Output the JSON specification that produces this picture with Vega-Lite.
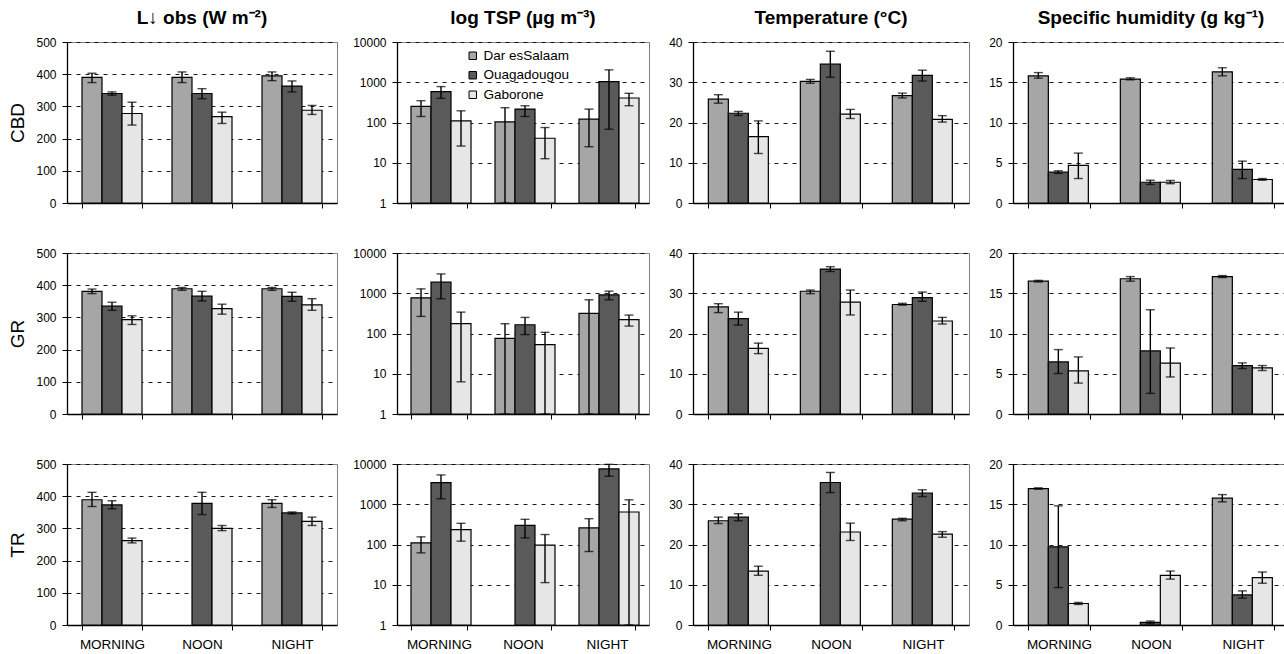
{
  "$schema": "https://vega.github.io/schema/vega-lite/v6.json",
  "padding": {"left": 8, "right": 1, "top": 8, "bottom": 2},
  "background": "white",
  "datasets": {
    "d": [
      {"s":"CBD","v":"L","t":"MORNING","c":"Dar esSalaam","val":390,"lo":374,"hi":403},
      {"s":"CBD","v":"L","t":"MORNING","c":"Ouagadougou","val":340,"lo":335,"hi":345},
      {"s":"CBD","v":"L","t":"MORNING","c":"Gaborone","val":278,"lo":242,"hi":313},
      {"s":"CBD","v":"L","t":"NOON","c":"Dar esSalaam","val":390,"lo":374,"hi":407},
      {"s":"CBD","v":"L","t":"NOON","c":"Ouagadougou","val":340,"lo":324,"hi":355},
      {"s":"CBD","v":"L","t":"NOON","c":"Gaborone","val":268,"lo":247,"hi":282},
      {"s":"CBD","v":"L","t":"NIGHT","c":"Dar esSalaam","val":395,"lo":380,"hi":407},
      {"s":"CBD","v":"L","t":"NIGHT","c":"Ouagadougou","val":363,"lo":345,"hi":379},
      {"s":"CBD","v":"L","t":"NIGHT","c":"Gaborone","val":288,"lo":275,"hi":303},

      {"s":"CBD","v":"TSP","t":"MORNING","c":"Dar esSalaam","val":251,"lo":141,"hi":348},
      {"s":"CBD","v":"TSP","t":"MORNING","c":"Ouagadougou","val":584,"lo":398,"hi":780},
      {"s":"CBD","v":"TSP","t":"MORNING","c":"Gaborone","val":110,"lo":26,"hi":195},
      {"s":"CBD","v":"TSP","t":"NOON","c":"Dar esSalaam","val":104,"lo":1,"hi":233},
      {"s":"CBD","v":"TSP","t":"NOON","c":"Ouagadougou","val":215,"lo":141,"hi":261},
      {"s":"CBD","v":"TSP","t":"NOON","c":"Gaborone","val":40.6,"lo":12.6,"hi":75},
      {"s":"CBD","v":"TSP","t":"NIGHT","c":"Dar esSalaam","val":121,"lo":25,"hi":215},
      {"s":"CBD","v":"TSP","t":"NIGHT","c":"Ouagadougou","val":1040,"lo":68,"hi":2033},
      {"s":"CBD","v":"TSP","t":"NIGHT","c":"Gaborone","val":406,"lo":261,"hi":531},

      {"s":"CBD","v":"T","t":"MORNING","c":"Dar esSalaam","val":25.8,"lo":24.8,"hi":26.9},
      {"s":"CBD","v":"T","t":"MORNING","c":"Ouagadougou","val":22.3,"lo":21.75,"hi":22.75},
      {"s":"CBD","v":"T","t":"MORNING","c":"Gaborone","val":16.5,"lo":12.3,"hi":20.4},
      {"s":"CBD","v":"T","t":"NOON","c":"Dar esSalaam","val":30.2,"lo":29.75,"hi":30.7},
      {"s":"CBD","v":"T","t":"NOON","c":"Ouagadougou","val":34.5,"lo":31.25,"hi":37.7},
      {"s":"CBD","v":"T","t":"NOON","c":"Gaborone","val":22.1,"lo":21,"hi":23.25},
      {"s":"CBD","v":"T","t":"NIGHT","c":"Dar esSalaam","val":26.7,"lo":26.1,"hi":27.3},
      {"s":"CBD","v":"T","t":"NIGHT","c":"Ouagadougou","val":31.7,"lo":30.3,"hi":33},
      {"s":"CBD","v":"T","t":"NIGHT","c":"Gaborone","val":20.8,"lo":20.1,"hi":21.7},

      {"s":"CBD","v":"Q","t":"MORNING","c":"Dar esSalaam","val":15.8,"lo":15.5,"hi":16.2},
      {"s":"CBD","v":"Q","t":"MORNING","c":"Ouagadougou","val":3.83,"lo":3.67,"hi":4.0},
      {"s":"CBD","v":"Q","t":"MORNING","c":"Gaborone","val":4.67,"lo":3.04,"hi":6.2},
      {"s":"CBD","v":"Q","t":"NOON","c":"Dar esSalaam","val":15.4,"lo":15.3,"hi":15.55},
      {"s":"CBD","v":"Q","t":"NOON","c":"Ouagadougou","val":2.58,"lo":2.3,"hi":2.83},
      {"s":"CBD","v":"Q","t":"NOON","c":"Gaborone","val":2.58,"lo":2.4,"hi":2.8},
      {"s":"CBD","v":"Q","t":"NIGHT","c":"Dar esSalaam","val":16.3,"lo":15.8,"hi":16.8},
      {"s":"CBD","v":"Q","t":"NIGHT","c":"Ouagadougou","val":4.17,"lo":3.04,"hi":5.2},
      {"s":"CBD","v":"Q","t":"NIGHT","c":"Gaborone","val":2.92,"lo":2.83,"hi":3.04},

      {"s":"GR","v":"L","t":"MORNING","c":"Dar esSalaam","val":381,"lo":374,"hi":388},
      {"s":"GR","v":"L","t":"MORNING","c":"Ouagadougou","val":335,"lo":322,"hi":347},
      {"s":"GR","v":"L","t":"MORNING","c":"Gaborone","val":293,"lo":278,"hi":305},
      {"s":"GR","v":"L","t":"NOON","c":"Dar esSalaam","val":389,"lo":384,"hi":393},
      {"s":"GR","v":"L","t":"NOON","c":"Ouagadougou","val":366,"lo":351,"hi":381},
      {"s":"GR","v":"L","t":"NOON","c":"Gaborone","val":327,"lo":310,"hi":341},
      {"s":"GR","v":"L","t":"NIGHT","c":"Dar esSalaam","val":389,"lo":384,"hi":393},
      {"s":"GR","v":"L","t":"NIGHT","c":"Ouagadougou","val":365,"lo":350,"hi":378},
      {"s":"GR","v":"L","t":"NIGHT","c":"Gaborone","val":339,"lo":322,"hi":358},

      {"s":"GR","v":"TSP","t":"MORNING","c":"Dar esSalaam","val":770,"lo":266,"hi":1286},
      {"s":"GR","v":"TSP","t":"MORNING","c":"Ouagadougou","val":1880,"lo":728,"hi":3020},
      {"s":"GR","v":"TSP","t":"MORNING","c":"Gaborone","val":175,"lo":6.3,"hi":340},
      {"s":"GR","v":"TSP","t":"NOON","c":"Dar esSalaam","val":76,"lo":1,"hi":175},
      {"s":"GR","v":"TSP","t":"NOON","c":"Ouagadougou","val":165,"lo":94,"hi":251},
      {"s":"GR","v":"TSP","t":"NOON","c":"Gaborone","val":53,"lo":1,"hi":107},
      {"s":"GR","v":"TSP","t":"NIGHT","c":"Dar esSalaam","val":316,"lo":1,"hi":687},
      {"s":"GR","v":"TSP","t":"NIGHT","c":"Ouagadougou","val":914,"lo":687,"hi":1127},
      {"s":"GR","v":"TSP","t":"NIGHT","c":"Gaborone","val":220,"lo":153,"hi":287},

      {"s":"GR","v":"T","t":"MORNING","c":"Dar esSalaam","val":26.6,"lo":25.2,"hi":27.4},
      {"s":"GR","v":"T","t":"MORNING","c":"Ouagadougou","val":23.7,"lo":22.1,"hi":25.3},
      {"s":"GR","v":"T","t":"MORNING","c":"Gaborone","val":16.3,"lo":15,"hi":17.6},
      {"s":"GR","v":"T","t":"NOON","c":"Dar esSalaam","val":30.5,"lo":29.9,"hi":30.8},
      {"s":"GR","v":"T","t":"NOON","c":"Ouagadougou","val":36.0,"lo":35.4,"hi":36.6},
      {"s":"GR","v":"T","t":"NOON","c":"Gaborone","val":27.8,"lo":24.6,"hi":30.8},
      {"s":"GR","v":"T","t":"NIGHT","c":"Dar esSalaam","val":27.2,"lo":27.05,"hi":27.5},
      {"s":"GR","v":"T","t":"NIGHT","c":"Ouagadougou","val":28.9,"lo":28,"hi":30.3},
      {"s":"GR","v":"T","t":"NIGHT","c":"Gaborone","val":23.1,"lo":22.35,"hi":24},

      {"s":"GR","v":"Q","t":"MORNING","c":"Dar esSalaam","val":16.5,"lo":16.4,"hi":16.6},
      {"s":"GR","v":"Q","t":"MORNING","c":"Ouagadougou","val":6.47,"lo":5.03,"hi":8.0},
      {"s":"GR","v":"Q","t":"MORNING","c":"Gaborone","val":5.36,"lo":3.84,"hi":7.09},
      {"s":"GR","v":"Q","t":"NOON","c":"Dar esSalaam","val":16.8,"lo":16.5,"hi":17.07},
      {"s":"GR","v":"Q","t":"NOON","c":"Ouagadougou","val":7.84,"lo":2.56,"hi":12.95},
      {"s":"GR","v":"Q","t":"NOON","c":"Gaborone","val":6.31,"lo":4.6,"hi":8.2},
      {"s":"GR","v":"Q","t":"NIGHT","c":"Dar esSalaam","val":17.07,"lo":16.95,"hi":17.2},
      {"s":"GR","v":"Q","t":"NIGHT","c":"Ouagadougou","val":6.02,"lo":5.65,"hi":6.35},
      {"s":"GR","v":"Q","t":"NIGHT","c":"Gaborone","val":5.73,"lo":5.4,"hi":6.02},

      {"s":"TR","v":"L","t":"MORNING","c":"Dar esSalaam","val":389,"lo":368,"hi":412},
      {"s":"TR","v":"L","t":"MORNING","c":"Ouagadougou","val":373,"lo":361,"hi":386},
      {"s":"TR","v":"L","t":"MORNING","c":"Gaborone","val":262,"lo":255,"hi":270},
      {"s":"TR","v":"L","t":"NOON","c":"Ouagadougou","val":378,"lo":343,"hi":412},
      {"s":"TR","v":"L","t":"NOON","c":"Gaborone","val":300,"lo":293,"hi":309},
      {"s":"TR","v":"L","t":"NIGHT","c":"Dar esSalaam","val":378,"lo":365,"hi":389},
      {"s":"TR","v":"L","t":"NIGHT","c":"Ouagadougou","val":348,"lo":345,"hi":351},
      {"s":"TR","v":"L","t":"NIGHT","c":"Gaborone","val":322,"lo":309,"hi":335},

      {"s":"TR","v":"TSP","t":"MORNING","c":"Dar esSalaam","val":110,"lo":62,"hi":155},
      {"s":"TR","v":"TSP","t":"MORNING","c":"Ouagadougou","val":3460,"lo":1367,"hi":5350},
      {"s":"TR","v":"TSP","t":"MORNING","c":"Gaborone","val":235,"lo":121,"hi":336},
      {"s":"TR","v":"TSP","t":"NOON","c":"Ouagadougou","val":300,"lo":146,"hi":422},
      {"s":"TR","v":"TSP","t":"NOON","c":"Gaborone","val":96,"lo":11.3,"hi":177},
      {"s":"TR","v":"TSP","t":"NIGHT","c":"Dar esSalaam","val":258,"lo":67,"hi":438},
      {"s":"TR","v":"TSP","t":"NIGHT","c":"Ouagadougou","val":7530,"lo":4960,"hi":9800},
      {"s":"TR","v":"TSP","t":"NIGHT","c":"Gaborone","val":641,"lo":1,"hi":1291},

      {"s":"TR","v":"T","t":"MORNING","c":"Dar esSalaam","val":25.9,"lo":25.2,"hi":26.8},
      {"s":"TR","v":"T","t":"MORNING","c":"Ouagadougou","val":26.8,"lo":25.9,"hi":27.65},
      {"s":"TR","v":"T","t":"MORNING","c":"Gaborone","val":13.4,"lo":12.35,"hi":14.6},
      {"s":"TR","v":"T","t":"NOON","c":"Ouagadougou","val":35.4,"lo":32.9,"hi":37.9},
      {"s":"TR","v":"T","t":"NOON","c":"Gaborone","val":23.1,"lo":21,"hi":25.3},
      {"s":"TR","v":"T","t":"NIGHT","c":"Dar esSalaam","val":26.3,"lo":25.9,"hi":26.5},
      {"s":"TR","v":"T","t":"NIGHT","c":"Ouagadougou","val":32.8,"lo":31.9,"hi":33.6},
      {"s":"TR","v":"T","t":"NIGHT","c":"Gaborone","val":22.6,"lo":21.8,"hi":23.2},

      {"s":"TR","v":"Q","t":"MORNING","c":"Dar esSalaam","val":16.95,"lo":16.87,"hi":17.04},
      {"s":"TR","v":"Q","t":"MORNING","c":"Ouagadougou","val":9.71,"lo":4.65,"hi":14.8},
      {"s":"TR","v":"Q","t":"MORNING","c":"Gaborone","val":2.67,"lo":2.55,"hi":2.8},
      {"s":"TR","v":"Q","t":"NOON","c":"Ouagadougou","val":0.33,"lo":0.16,"hi":0.49},
      {"s":"TR","v":"Q","t":"NOON","c":"Gaborone","val":6.17,"lo":5.7,"hi":6.7},
      {"s":"TR","v":"Q","t":"NIGHT","c":"Dar esSalaam","val":15.76,"lo":15.3,"hi":16.2},
      {"s":"TR","v":"Q","t":"NIGHT","c":"Ouagadougou","val":3.74,"lo":3.33,"hi":4.24},
      {"s":"TR","v":"Q","t":"NIGHT","c":"Gaborone","val":5.88,"lo":5.19,"hi":6.58}
    ]
  },
  "columns": 4,
  "spacing": {"row": 36, "column": 14},
  "resolve": {"scale": {"color": "independent"}},
  "concat": [
    {"width":270,"height":161,"title":"L↓ obs (W m⁻²)","data":{"name":"d"},"transform":[{"filter":"datum.s=='CBD'&&datum.v=='L'"}],
     "encoding":{"x":{"field":"t","type":"nominal","sort":["MORNING","NOON","NIGHT"],"scale":{"paddingInner":0.3333,"paddingOuter":0.1667},"axis":{"labels":false}},
       "xOffset":{"field":"c","type":"nominal","scale":{"domain":["Dar esSalaam","Ouagadougou","Gaborone"],"paddingInner":0,"paddingOuter":0}}},
     "layer":[
      {"mark":{"type":"bar","stroke":"black","strokeWidth":1.2},"encoding":{"y":{"field":"val","type":"quantitative","title":"CBD","scale":{"domain":[0,500]},"axis":{"values":[0,100,200,300,400,500]}},"color":{"field":"c","type":"nominal","scale":{"domain":["Dar esSalaam","Ouagadougou","Gaborone"],"range":["#a6a6a6","#5a5a5a","#e6e6e6"]},"legend":null}}},
      {"mark":{"type":"rule","color":"black","strokeWidth":1.4},"encoding":{"y":{"field":"lo","type":"quantitative","title":"CBD","axis":{"values":[0,100,200,300,400,500]}},"y2":{"field":"hi"}}},
      {"mark":{"type":"tick","color":"black","thickness":1.4,"size":9},"encoding":{"y":{"field":"lo","type":"quantitative","title":"CBD","axis":{"values":[0,100,200,300,400,500]}}}},
      {"mark":{"type":"tick","color":"black","thickness":1.4,"size":9},"encoding":{"y":{"field":"hi","type":"quantitative","title":"CBD","axis":{"values":[0,100,200,300,400,500]}}}}
     ]},
    {"width":252,"height":161,"title":"log TSP (µg m⁻³)","data":{"name":"d"},"transform":[{"filter":"datum.s=='CBD'&&datum.v=='TSP'"}],
     "encoding":{"x":{"field":"t","type":"nominal","sort":["MORNING","NOON","NIGHT"],"scale":{"paddingInner":0.3333,"paddingOuter":0.1667},"axis":{"labels":false}},
       "xOffset":{"field":"c","type":"nominal","scale":{"domain":["Dar esSalaam","Ouagadougou","Gaborone"],"paddingInner":0,"paddingOuter":0}}},
     "layer":[
      {"mark":{"type":"bar","stroke":"black","strokeWidth":1.2},"encoding":{"y":{"field":"val","type":"quantitative","title":null,"scale":{"type":"log","domain":[1,10000]},"axis":{"values":[1,10,100,1000,10000],"format":"d"}},"y2":{"datum":1},"color":{"field":"c","type":"nominal","scale":{"domain":["Dar esSalaam","Ouagadougou","Gaborone"],"range":["#a6a6a6","#5a5a5a","#e6e6e6"]},"legend":{"orient":"none","legendX":69,"legendY":7,"title":null,"symbolType":"square","symbolSize":56,"symbolStrokeColor":"black","symbolStrokeWidth":1,"labelFontSize":13.5,"labelColor":"black","rowPadding":4.5,"labelOffset":4}}}},
      {"mark":{"type":"rule","color":"black","strokeWidth":1.4},"encoding":{"y":{"field":"lo","type":"quantitative","title":null,"scale":{"type":"log"},"axis":{"values":[1,10,100,1000,10000],"format":"d"}},"y2":{"field":"hi"}}},
      {"mark":{"type":"tick","color":"black","thickness":1.4,"size":9},"encoding":{"y":{"field":"lo","type":"quantitative","title":null,"scale":{"type":"log"},"axis":{"values":[1,10,100,1000,10000],"format":"d"}}}},
      {"mark":{"type":"tick","color":"black","thickness":1.4,"size":9},"encoding":{"y":{"field":"hi","type":"quantitative","title":null,"scale":{"type":"log"},"axis":{"values":[1,10,100,1000,10000],"format":"d"}}}}
     ]},
    {"width":276,"height":161,"title":"Temperature (°C)","data":{"name":"d"},"transform":[{"filter":"datum.s=='CBD'&&datum.v=='T'"}],
     "encoding":{"x":{"field":"t","type":"nominal","sort":["MORNING","NOON","NIGHT"],"scale":{"paddingInner":0.3333,"paddingOuter":0.1667},"axis":{"labels":false}},
       "xOffset":{"field":"c","type":"nominal","scale":{"domain":["Dar esSalaam","Ouagadougou","Gaborone"],"paddingInner":0,"paddingOuter":0}}},
     "layer":[
      {"mark":{"type":"bar","stroke":"black","strokeWidth":1.2},"encoding":{"y":{"field":"val","type":"quantitative","title":null,"scale":{"domain":[0,40]},"axis":{"values":[0,10,20,30,40],"minExtent":28}},"color":{"field":"c","type":"nominal","scale":{"domain":["Dar esSalaam","Ouagadougou","Gaborone"],"range":["#a6a6a6","#5a5a5a","#e6e6e6"]},"legend":null}}},
      {"mark":{"type":"rule","color":"black","strokeWidth":1.4},"encoding":{"y":{"field":"lo","type":"quantitative","title":null,"axis":{"values":[0,10,20,30,40],"minExtent":28}},"y2":{"field":"hi"}}},
      {"mark":{"type":"tick","color":"black","thickness":1.4,"size":9},"encoding":{"y":{"field":"lo","type":"quantitative","title":null,"axis":{"values":[0,10,20,30,40],"minExtent":28}}}},
      {"mark":{"type":"tick","color":"black","thickness":1.4,"size":9},"encoding":{"y":{"field":"hi","type":"quantitative","title":null,"axis":{"values":[0,10,20,30,40],"minExtent":28}}}}
     ]},
    {"width":276,"height":161,"title":"Specific humidity (g kg⁻¹)","data":{"name":"d"},"transform":[{"filter":"datum.s=='CBD'&&datum.v=='Q'"}],
     "encoding":{"x":{"field":"t","type":"nominal","sort":["MORNING","NOON","NIGHT"],"scale":{"paddingInner":0.3333,"paddingOuter":0.1667},"axis":{"labels":false}},
       "xOffset":{"field":"c","type":"nominal","scale":{"domain":["Dar esSalaam","Ouagadougou","Gaborone"],"paddingInner":0,"paddingOuter":0}}},
     "layer":[
      {"mark":{"type":"bar","stroke":"black","strokeWidth":1.2},"encoding":{"y":{"field":"val","type":"quantitative","title":null,"scale":{"domain":[0,20]},"axis":{"values":[0,5,10,15,20],"minExtent":28}},"color":{"field":"c","type":"nominal","scale":{"domain":["Dar esSalaam","Ouagadougou","Gaborone"],"range":["#a6a6a6","#5a5a5a","#e6e6e6"]},"legend":null}}},
      {"mark":{"type":"rule","color":"black","strokeWidth":1.4},"encoding":{"y":{"field":"lo","type":"quantitative","title":null,"axis":{"values":[0,5,10,15,20],"minExtent":28}},"y2":{"field":"hi"}}},
      {"mark":{"type":"tick","color":"black","thickness":1.4,"size":9},"encoding":{"y":{"field":"lo","type":"quantitative","title":null,"axis":{"values":[0,5,10,15,20],"minExtent":28}}}},
      {"mark":{"type":"tick","color":"black","thickness":1.4,"size":9},"encoding":{"y":{"field":"hi","type":"quantitative","title":null,"axis":{"values":[0,5,10,15,20],"minExtent":28}}}}
     ]},

    {"width":270,"height":161,"data":{"name":"d"},"transform":[{"filter":"datum.s=='GR'&&datum.v=='L'"}],
     "encoding":{"x":{"field":"t","type":"nominal","sort":["MORNING","NOON","NIGHT"],"scale":{"paddingInner":0.3333,"paddingOuter":0.1667},"axis":{"labels":false}},
       "xOffset":{"field":"c","type":"nominal","scale":{"domain":["Dar esSalaam","Ouagadougou","Gaborone"],"paddingInner":0,"paddingOuter":0}}},
     "layer":[
      {"mark":{"type":"bar","stroke":"black","strokeWidth":1.2},"encoding":{"y":{"field":"val","type":"quantitative","title":"GR","scale":{"domain":[0,500]},"axis":{"values":[0,100,200,300,400,500]}},"color":{"field":"c","type":"nominal","scale":{"domain":["Dar esSalaam","Ouagadougou","Gaborone"],"range":["#a6a6a6","#5a5a5a","#e6e6e6"]},"legend":null}}},
      {"mark":{"type":"rule","color":"black","strokeWidth":1.4},"encoding":{"y":{"field":"lo","type":"quantitative","title":"GR","axis":{"values":[0,100,200,300,400,500]}},"y2":{"field":"hi"}}},
      {"mark":{"type":"tick","color":"black","thickness":1.4,"size":9},"encoding":{"y":{"field":"lo","type":"quantitative","title":"GR","axis":{"values":[0,100,200,300,400,500]}}}},
      {"mark":{"type":"tick","color":"black","thickness":1.4,"size":9},"encoding":{"y":{"field":"hi","type":"quantitative","title":"GR","axis":{"values":[0,100,200,300,400,500]}}}}
     ]},
    {"width":252,"height":161,"data":{"name":"d"},"transform":[{"filter":"datum.s=='GR'&&datum.v=='TSP'"}],
     "encoding":{"x":{"field":"t","type":"nominal","sort":["MORNING","NOON","NIGHT"],"scale":{"paddingInner":0.3333,"paddingOuter":0.1667},"axis":{"labels":false}},
       "xOffset":{"field":"c","type":"nominal","scale":{"domain":["Dar esSalaam","Ouagadougou","Gaborone"],"paddingInner":0,"paddingOuter":0}}},
     "layer":[
      {"mark":{"type":"bar","stroke":"black","strokeWidth":1.2},"encoding":{"y":{"field":"val","type":"quantitative","title":null,"scale":{"type":"log","domain":[1,10000]},"axis":{"values":[1,10,100,1000,10000],"format":"d"}},"y2":{"datum":1},"color":{"field":"c","type":"nominal","scale":{"domain":["Dar esSalaam","Ouagadougou","Gaborone"],"range":["#a6a6a6","#5a5a5a","#e6e6e6"]},"legend":null}}},
      {"mark":{"type":"rule","color":"black","strokeWidth":1.4},"encoding":{"y":{"field":"lo","type":"quantitative","title":null,"scale":{"type":"log"},"axis":{"values":[1,10,100,1000,10000],"format":"d"}},"y2":{"field":"hi"}}},
      {"mark":{"type":"tick","color":"black","thickness":1.4,"size":9},"encoding":{"y":{"field":"lo","type":"quantitative","title":null,"scale":{"type":"log"},"axis":{"values":[1,10,100,1000,10000],"format":"d"}}}},
      {"mark":{"type":"tick","color":"black","thickness":1.4,"size":9},"encoding":{"y":{"field":"hi","type":"quantitative","title":null,"scale":{"type":"log"},"axis":{"values":[1,10,100,1000,10000],"format":"d"}}}}
     ]},
    {"width":276,"height":161,"data":{"name":"d"},"transform":[{"filter":"datum.s=='GR'&&datum.v=='T'"}],
     "encoding":{"x":{"field":"t","type":"nominal","sort":["MORNING","NOON","NIGHT"],"scale":{"paddingInner":0.3333,"paddingOuter":0.1667},"axis":{"labels":false}},
       "xOffset":{"field":"c","type":"nominal","scale":{"domain":["Dar esSalaam","Ouagadougou","Gaborone"],"paddingInner":0,"paddingOuter":0}}},
     "layer":[
      {"mark":{"type":"bar","stroke":"black","strokeWidth":1.2},"encoding":{"y":{"field":"val","type":"quantitative","title":null,"scale":{"domain":[0,40]},"axis":{"values":[0,10,20,30,40],"minExtent":28}},"color":{"field":"c","type":"nominal","scale":{"domain":["Dar esSalaam","Ouagadougou","Gaborone"],"range":["#a6a6a6","#5a5a5a","#e6e6e6"]},"legend":null}}},
      {"mark":{"type":"rule","color":"black","strokeWidth":1.4},"encoding":{"y":{"field":"lo","type":"quantitative","title":null,"axis":{"values":[0,10,20,30,40],"minExtent":28}},"y2":{"field":"hi"}}},
      {"mark":{"type":"tick","color":"black","thickness":1.4,"size":9},"encoding":{"y":{"field":"lo","type":"quantitative","title":null,"axis":{"values":[0,10,20,30,40],"minExtent":28}}}},
      {"mark":{"type":"tick","color":"black","thickness":1.4,"size":9},"encoding":{"y":{"field":"hi","type":"quantitative","title":null,"axis":{"values":[0,10,20,30,40],"minExtent":28}}}}
     ]},
    {"width":276,"height":161,"data":{"name":"d"},"transform":[{"filter":"datum.s=='GR'&&datum.v=='Q'"}],
     "encoding":{"x":{"field":"t","type":"nominal","sort":["MORNING","NOON","NIGHT"],"scale":{"paddingInner":0.3333,"paddingOuter":0.1667},"axis":{"labels":false}},
       "xOffset":{"field":"c","type":"nominal","scale":{"domain":["Dar esSalaam","Ouagadougou","Gaborone"],"paddingInner":0,"paddingOuter":0}}},
     "layer":[
      {"mark":{"type":"bar","stroke":"black","strokeWidth":1.2},"encoding":{"y":{"field":"val","type":"quantitative","title":null,"scale":{"domain":[0,20]},"axis":{"values":[0,5,10,15,20],"minExtent":28}},"color":{"field":"c","type":"nominal","scale":{"domain":["Dar esSalaam","Ouagadougou","Gaborone"],"range":["#a6a6a6","#5a5a5a","#e6e6e6"]},"legend":null}}},
      {"mark":{"type":"rule","color":"black","strokeWidth":1.4},"encoding":{"y":{"field":"lo","type":"quantitative","title":null,"axis":{"values":[0,5,10,15,20],"minExtent":28}},"y2":{"field":"hi"}}},
      {"mark":{"type":"tick","color":"black","thickness":1.4,"size":9},"encoding":{"y":{"field":"lo","type":"quantitative","title":null,"axis":{"values":[0,5,10,15,20],"minExtent":28}}}},
      {"mark":{"type":"tick","color":"black","thickness":1.4,"size":9},"encoding":{"y":{"field":"hi","type":"quantitative","title":null,"axis":{"values":[0,5,10,15,20],"minExtent":28}}}}
     ]},

    {"width":270,"height":161,"data":{"name":"d"},"transform":[{"filter":"datum.s=='TR'&&datum.v=='L'"}],
     "encoding":{"x":{"field":"t","type":"nominal","sort":["MORNING","NOON","NIGHT"],"scale":{"paddingInner":0.3333,"paddingOuter":0.1667}},
       "xOffset":{"field":"c","type":"nominal","scale":{"domain":["Dar esSalaam","Ouagadougou","Gaborone"],"paddingInner":0,"paddingOuter":0}}},
     "layer":[
      {"mark":{"type":"bar","stroke":"black","strokeWidth":1.2},"encoding":{"y":{"field":"val","type":"quantitative","title":"TR","scale":{"domain":[0,500]},"axis":{"values":[0,100,200,300,400,500]}},"color":{"field":"c","type":"nominal","scale":{"domain":["Dar esSalaam","Ouagadougou","Gaborone"],"range":["#a6a6a6","#5a5a5a","#e6e6e6"]},"legend":null}}},
      {"mark":{"type":"rule","color":"black","strokeWidth":1.4},"encoding":{"y":{"field":"lo","type":"quantitative","title":"TR","axis":{"values":[0,100,200,300,400,500]}},"y2":{"field":"hi"}}},
      {"mark":{"type":"tick","color":"black","thickness":1.4,"size":9},"encoding":{"y":{"field":"lo","type":"quantitative","title":"TR","axis":{"values":[0,100,200,300,400,500]}}}},
      {"mark":{"type":"tick","color":"black","thickness":1.4,"size":9},"encoding":{"y":{"field":"hi","type":"quantitative","title":"TR","axis":{"values":[0,100,200,300,400,500]}}}}
     ]},
    {"width":252,"height":161,"data":{"name":"d"},"transform":[{"filter":"datum.s=='TR'&&datum.v=='TSP'"}],
     "encoding":{"x":{"field":"t","type":"nominal","sort":["MORNING","NOON","NIGHT"],"scale":{"paddingInner":0.3333,"paddingOuter":0.1667}},
       "xOffset":{"field":"c","type":"nominal","scale":{"domain":["Dar esSalaam","Ouagadougou","Gaborone"],"paddingInner":0,"paddingOuter":0}}},
     "layer":[
      {"mark":{"type":"bar","stroke":"black","strokeWidth":1.2},"encoding":{"y":{"field":"val","type":"quantitative","title":null,"scale":{"type":"log","domain":[1,10000]},"axis":{"values":[1,10,100,1000,10000],"format":"d"}},"y2":{"datum":1},"color":{"field":"c","type":"nominal","scale":{"domain":["Dar esSalaam","Ouagadougou","Gaborone"],"range":["#a6a6a6","#5a5a5a","#e6e6e6"]},"legend":null}}},
      {"mark":{"type":"rule","color":"black","strokeWidth":1.4},"encoding":{"y":{"field":"lo","type":"quantitative","title":null,"scale":{"type":"log"},"axis":{"values":[1,10,100,1000,10000],"format":"d"}},"y2":{"field":"hi"}}},
      {"mark":{"type":"tick","color":"black","thickness":1.4,"size":9},"encoding":{"y":{"field":"lo","type":"quantitative","title":null,"scale":{"type":"log"},"axis":{"values":[1,10,100,1000,10000],"format":"d"}}}},
      {"mark":{"type":"tick","color":"black","thickness":1.4,"size":9},"encoding":{"y":{"field":"hi","type":"quantitative","title":null,"scale":{"type":"log"},"axis":{"values":[1,10,100,1000,10000],"format":"d"}}}}
     ]},
    {"width":276,"height":161,"data":{"name":"d"},"transform":[{"filter":"datum.s=='TR'&&datum.v=='T'"}],
     "encoding":{"x":{"field":"t","type":"nominal","sort":["MORNING","NOON","NIGHT"],"scale":{"paddingInner":0.3333,"paddingOuter":0.1667}},
       "xOffset":{"field":"c","type":"nominal","scale":{"domain":["Dar esSalaam","Ouagadougou","Gaborone"],"paddingInner":0,"paddingOuter":0}}},
     "layer":[
      {"mark":{"type":"bar","stroke":"black","strokeWidth":1.2},"encoding":{"y":{"field":"val","type":"quantitative","title":null,"scale":{"domain":[0,40]},"axis":{"values":[0,10,20,30,40],"minExtent":28}},"color":{"field":"c","type":"nominal","scale":{"domain":["Dar esSalaam","Ouagadougou","Gaborone"],"range":["#a6a6a6","#5a5a5a","#e6e6e6"]},"legend":null}}},
      {"mark":{"type":"rule","color":"black","strokeWidth":1.4},"encoding":{"y":{"field":"lo","type":"quantitative","title":null,"axis":{"values":[0,10,20,30,40],"minExtent":28}},"y2":{"field":"hi"}}},
      {"mark":{"type":"tick","color":"black","thickness":1.4,"size":9},"encoding":{"y":{"field":"lo","type":"quantitative","title":null,"axis":{"values":[0,10,20,30,40],"minExtent":28}}}},
      {"mark":{"type":"tick","color":"black","thickness":1.4,"size":9},"encoding":{"y":{"field":"hi","type":"quantitative","title":null,"axis":{"values":[0,10,20,30,40],"minExtent":28}}}}
     ]},
    {"width":276,"height":161,"data":{"name":"d"},"transform":[{"filter":"datum.s=='TR'&&datum.v=='Q'"}],
     "encoding":{"x":{"field":"t","type":"nominal","sort":["MORNING","NOON","NIGHT"],"scale":{"paddingInner":0.3333,"paddingOuter":0.1667}},
       "xOffset":{"field":"c","type":"nominal","scale":{"domain":["Dar esSalaam","Ouagadougou","Gaborone"],"paddingInner":0,"paddingOuter":0}}},
     "layer":[
      {"mark":{"type":"bar","stroke":"black","strokeWidth":1.2},"encoding":{"y":{"field":"val","type":"quantitative","title":null,"scale":{"domain":[0,20]},"axis":{"values":[0,5,10,15,20],"minExtent":28}},"color":{"field":"c","type":"nominal","scale":{"domain":["Dar esSalaam","Ouagadougou","Gaborone"],"range":["#a6a6a6","#5a5a5a","#e6e6e6"]},"legend":null}}},
      {"mark":{"type":"rule","color":"black","strokeWidth":1.4},"encoding":{"y":{"field":"lo","type":"quantitative","title":null,"axis":{"values":[0,5,10,15,20],"minExtent":28}},"y2":{"field":"hi"}}},
      {"mark":{"type":"tick","color":"black","thickness":1.4,"size":9},"encoding":{"y":{"field":"lo","type":"quantitative","title":null,"axis":{"values":[0,5,10,15,20],"minExtent":28}}}},
      {"mark":{"type":"tick","color":"black","thickness":1.4,"size":9},"encoding":{"y":{"field":"hi","type":"quantitative","title":null,"axis":{"values":[0,5,10,15,20],"minExtent":28}}}}
     ]}
  ],
  "config": {
    "font": "Liberation Sans",
    "view": {"stroke": "#808080", "strokeWidth": 1},
    "axis": {"domainColor": "black", "domainWidth": 1.3, "tickColor": "black", "tickWidth": 1, "labelColor": "black", "labelFont": "Liberation Sans", "gridColor": "black", "gridDash": [4, 5], "gridWidth": 0.9, "gridOpacity": 1},
    "axisY": {"tickSize": 5, "labelPadding": 6, "labelFontSize": 12, "titleFontSize": 19, "titleFontWeight": "normal", "titleColor": "black", "titlePadding": 8, "grid": true, "labelOverlap": false},
    "axisX": {"tickSize": 5, "labelFontSize": 13.5, "labelPadding": 7, "grid": false, "title": null, "labelAngle": 0, "tickBand": "extent"},
    "title": {"fontSize": 19, "fontWeight": "bold", "color": "black", "anchor": "middle", "frame": "group", "offset": 8, "font": "Liberation Sans"}
  }
}
